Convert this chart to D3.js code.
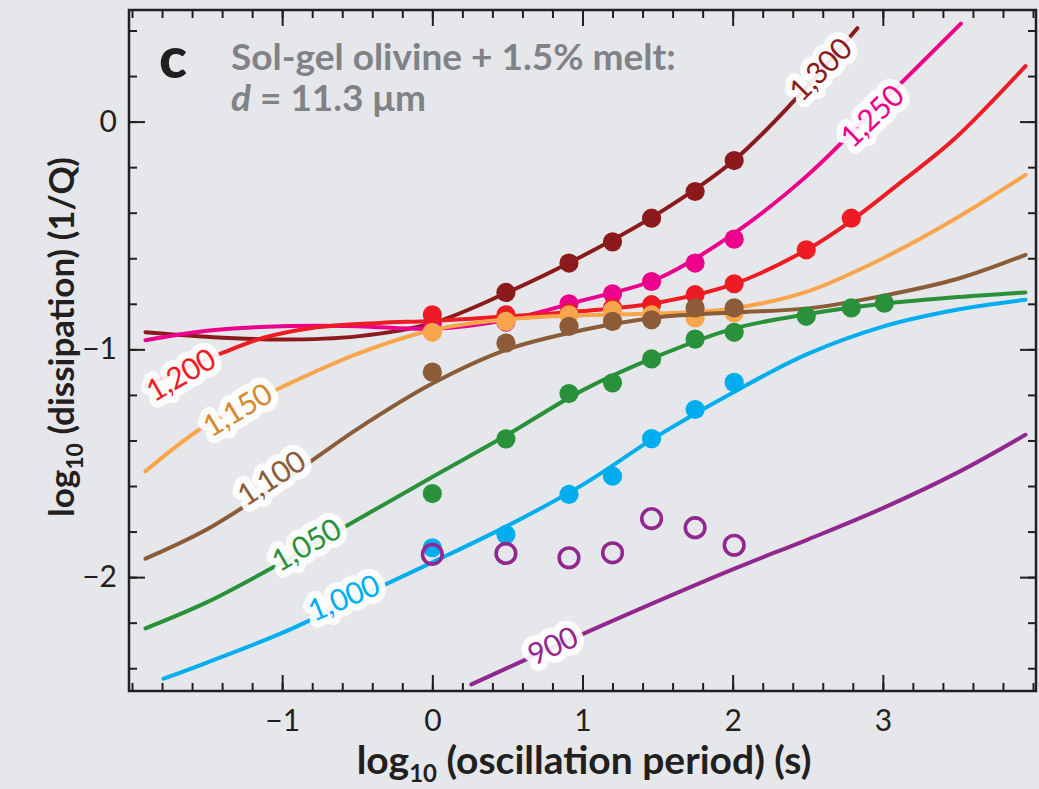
<!DOCTYPE html>
<html>
<head>
<meta charset="utf-8">
<script src="https://cdn.jsdelivr.net/npm/d3@7"></script>
<style>
  html, body { margin: 0; padding: 0; background: #e5e7ea; }
  svg { display: block; }
  text { font-family: Lato, "Open Sans", sans-serif; }
</style>
</head>
<body>
<svg id="chart" width="1039" height="789"></svg>
<script>
// ---- Data: log10 period (s) vs log10 dissipation (1/Q), by temperature (°C) ----
const temperatures = [1300, 1250, 1200, 1150, 1100, 1050, 1000, 900];
const labelText = ["1,300", "1,250", "1,200", "1,150", "1,100", "1,050", "1,000", "900"];
const seriesColors = ["#8c1a1d", "#ec008c", "#ed1c24", "#f9a54b", "#8b5c37", "#28913a", "#00aeef", "#92278f"];
const labelColors  = ["#8c1a1d", "#ec008c", "#ed1c24", "#d4892f", "#8b5c37", "#28913a", "#00aeef", "#92278f"];

// model fit curves [log10 period, log10 1/Q]
const fit1300 = [[-1.91,-0.925],[-1.5,-0.945],[-1.0,-0.957],[-0.5,-0.943],[0,-0.885],[0.5,-0.75],[1.0,-0.59],[1.5,-0.405],[2.0,-0.175],[2.4,0.085],[2.83,0.41]];
const fit1250 = [[-1.91,-0.96],[-1.5,-0.918],[-1.0,-0.898],[-0.5,-0.898],[0,-0.91],[0.5,-0.87],[1.0,-0.785],[1.5,-0.69],[2.0,-0.495],[2.5,-0.235],[3.0,0.09],[3.52,0.43]];
const fit1200 = [[-1.91,-1.16],[-1.6,-1.07],[-1.4,-1.016],[-1.13,-0.95],[-0.8,-0.906],[-0.35,-0.884],[0,-0.875],[0.5,-0.855],[1.0,-0.832],[1.5,-0.795],[2.0,-0.715],[2.5,-0.56],[2.79,-0.435],[3.14,-0.256],[3.47,-0.08],[3.95,0.244]];
const fit1150 = [[-1.91,-1.535],[-1.5,-1.33],[-1.0,-1.165],[-0.5,-1.02],[0,-0.915],[0.5,-0.868],[1.0,-0.85],[1.5,-0.843],[2.0,-0.82],[2.5,-0.745],[3.0,-0.6],[3.5,-0.42],[3.95,-0.234]];
const fit1100 = [[-1.91,-1.919],[-1.5,-1.79],[-1.0,-1.58],[-0.5,-1.35],[0,-1.15],[0.5,-1.0],[1.0,-0.915],[1.5,-0.86],[2.0,-0.838],[2.5,-0.82],[3.0,-0.765],[3.5,-0.69],[3.95,-0.585]];
const fit1050 = [[-1.91,-2.225],[-1.5,-2.11],[-1.0,-1.935],[-0.5,-1.748],[0,-1.56],[0.5,-1.375],[1.0,-1.18],[1.5,-1.03],[2.0,-0.91],[2.5,-0.845],[3.0,-0.8],[3.5,-0.77],[3.95,-0.75]];
const fit1000 = [[-1.79,-2.446],[-1.5,-2.375],[-1.0,-2.245],[-0.5,-2.09],[0,-1.935],[0.5,-1.775],[1.0,-1.595],[1.5,-1.38],[2.0,-1.19],[2.5,-1.02],[3.0,-0.9],[3.5,-0.825],[3.95,-0.782]];
const fit900  = [[0.26,-2.471],[1.0,-2.25],[2.0,-1.966],[2.5,-1.835],[3.0,-1.697],[3.5,-1.54],[3.95,-1.375]];

// measured points [log10 period, log10 1/Q]
const obs1300 = [[0.49,-0.75],[0.91,-0.621],[1.2,-0.528],[1.46,-0.424],[1.75,-0.307],[2.01,-0.171]];
const obs1250 = [[0,-0.885],[0.49,-0.88],[0.91,-0.80],[1.2,-0.756],[1.46,-0.702],[1.75,-0.621],[2.01,-0.516]];
const obs1200 = [[0,-0.848],[0.49,-0.848],[0.91,-0.84],[1.2,-0.818],[1.46,-0.804],[1.75,-0.76],[2.01,-0.712],[2.49,-0.563],[2.79,-0.424]];
const obs1150 = [[0,-0.925],[0.49,-0.877],[0.91,-0.848],[1.2,-0.829],[1.46,-0.848],[1.75,-0.862],[2.01,-0.84]];
const obs1100 = [[0,-1.10],[0.49,-0.972],[0.91,-0.899],[1.2,-0.877],[1.46,-0.87],[1.75,-0.818],[2.01,-0.818]];
const obs1050 = [[0,-1.633],[0.49,-1.393],[0.91,-1.194],[1.2,-1.147],[1.46,-1.042],[1.75,-0.955],[2.01,-0.925],[2.49,-0.855],[2.79,-0.818],[3.01,-0.797]];
const obs1000 = [[0,-1.871],[0.49,-1.813],[0.91,-1.637],[1.2,-1.557],[1.46,-1.392],[1.75,-1.264],[2.01,-1.145]];
const obs900  = [[0,-1.90],[0.49,-1.896],[0.91,-1.915],[1.2,-1.893],[1.46,-1.743],[1.75,-1.783],[2.01,-1.86]];

// axis ticks
const xMajorTicks = [-1, 0, 1, 2, 3];
const yMajorTicks = [-2, -1, 0];

const fits = [fit1300, fit1250, fit1200, fit1150, fit1100, fit1050, fit1000, fit900];
const observations = [obs1300, obs1250, obs1200, obs1150, obs1100, obs1050, obs1000, obs900];
const openMarkers = [false, false, false, false, false, false, false, true];

// ---- Layout ----
const svg = d3.select("#chart");
const W = 1039, H = 789;
const plot = { left: 129, right: 1036, top: 10, bottom: 691 };
const ink = "#231f20";

svg.append("rect").attr("width", W).attr("height", H).attr("fill", "#e5e7ea");

const x = d3.scaleLinear().domain([-2.02, 4.02]).range([plot.left, plot.right]);
const y = d3.scaleLinear().domain([-2.5, 0.49]).range([plot.bottom, plot.top]);

const xMinor = d3.range(-2.0, 4.01, 0.2).map(v => +v.toFixed(1));
const yMinor = d3.range(-2.4, 0.41, 0.2).map(v => +v.toFixed(1));

const line = d3.line()
  .x(d => x(d[0])).y(d => y(d[1]))
  .curve(d3.curveCatmullRom.alpha(0.5));

// ---- Series: fit curve then its measurements (hotter first, cooler on top) ----
const series = svg.append("g");
temperatures.forEach((t, i) => {
  const g = series.append("g").attr("class", "series-" + t);
  g.append("path")
    .attr("d", line(fits[i]))
    .attr("fill", "none")
    .attr("stroke", seriesColors[i])
    .attr("stroke-width", 4)
    .attr("stroke-linecap", "round");
  const dots = g.selectAll("circle").data(observations[i]).join("circle")
    .attr("cx", d => x(d[0])).attr("cy", d => y(d[1]));
  if (openMarkers[i]) {
    dots.attr("r", 9.8).attr("fill", "none")
      .attr("stroke", seriesColors[i]).attr("stroke-width", 3.6);
  } else {
    dots.attr("r", 9.6).attr("fill", seriesColors[i]);
  }
});

// ---- Temperature labels along curves (data position + rotation in degrees) ----
const labelPlacement = [
  { at: [2.583, 0.23],  angle: -45 },
  { at: [2.926, 0.025], angle: -44 },
  { at: [-1.677, -1.111], angle: -30 },
  { at: [-1.30, -1.265], angle: -31 },
  { at: [-1.074, -1.564], angle: -33 },
  { at: [-0.841, -1.857], angle: -30 },
  { at: [-0.591, -2.09], angle: -23 },
  { at: [0.80, -2.30], angle: -25 }
];
const labelSize = 30;
const labelFont = "'Open Sans', 'Noto Sans', sans-serif";
const labels = svg.append("g");
labelPlacement.forEach((p, i) => {
  const g = labels.append("g")
    .attr("transform", `translate(${x(p.at[0])},${y(p.at[1])}) rotate(${p.angle})`);
  g.append("text")
    .attr("text-anchor", "middle").attr("dy", "0.36em")
    .attr("font-family", labelFont).attr("font-size", labelSize)
    .attr("letter-spacing", -0.5)
    .attr("fill", "#ffffff").attr("stroke", "#ffffff")
    .attr("stroke-width", 14).attr("stroke-linejoin", "round")
    .attr("opacity", 0.9)
    .text(labelText[i]);
  g.append("text")
    .attr("text-anchor", "middle").attr("dy", "0.36em")
    .attr("font-family", labelFont).attr("font-size", labelSize)
    .attr("letter-spacing", -0.5)
    .attr("fill", labelColors[i])
    .text(labelText[i]);
});

// ---- Frame and inward ticks on all four sides ----
const axes = svg.append("g");
function styleAxis(sel) {
  sel.select(".domain").remove();
  sel.selectAll(".tick line").attr("stroke", ink).attr("stroke-width", 2);
  sel.selectAll(".tick text").attr("fill", ink).attr("font-size", 30)
    .attr("font-family", "Lato, 'Open Sans', sans-serif");
}
const fmt = d3.format("d");
axes.append("g").attr("transform", `translate(0,${plot.bottom})`)
  .call(d3.axisBottom(x).tickValues(xMinor).tickSize(-8).tickFormat("")).call(styleAxis);
axes.append("g").attr("transform", `translate(0,${plot.bottom})`)
  .call(d3.axisBottom(x).tickValues(xMajorTicks).tickSize(-16).tickPadding(19).tickFormat(fmt)).call(styleAxis);
axes.append("g").attr("transform", `translate(0,${plot.top})`)
  .call(d3.axisTop(x).tickValues(xMinor).tickSize(-8).tickFormat("")).call(styleAxis);
axes.append("g").attr("transform", `translate(0,${plot.top})`)
  .call(d3.axisTop(x).tickValues(xMajorTicks).tickSize(-16).tickFormat("")).call(styleAxis);
axes.append("g").attr("transform", `translate(${plot.left},0)`)
  .call(d3.axisLeft(y).tickValues(yMinor).tickSize(-8).tickFormat("")).call(styleAxis);
axes.append("g").attr("transform", `translate(${plot.left},0)`)
  .call(d3.axisLeft(y).tickValues(yMajorTicks).tickSize(-16).tickPadding(12).tickFormat(fmt)).call(styleAxis);
axes.append("g").attr("transform", `translate(${plot.right},0)`)
  .call(d3.axisRight(y).tickValues(yMinor).tickSize(-8).tickFormat("")).call(styleAxis);
axes.append("g").attr("transform", `translate(${plot.right},0)`)
  .call(d3.axisRight(y).tickValues(yMajorTicks).tickSize(-16).tickFormat("")).call(styleAxis);

axes.append("rect")
  .attr("x", plot.left).attr("y", plot.top)
  .attr("width", plot.right - plot.left).attr("height", plot.bottom - plot.top)
  .attr("fill", "none").attr("stroke", ink).attr("stroke-width", 2.5);

// ---- Axis titles ----
const xTitle = svg.append("text")
  .attr("x", 584).attr("y", 774)
  .attr("text-anchor", "middle").attr("font-size", 39).attr("font-weight", "bold").attr("fill", ink);
xTitle.append("tspan").text("log");
xTitle.append("tspan").attr("font-size", 24).attr("dy", 8).text("10");
xTitle.append("tspan").attr("dy", -8).text(" (oscillation period) (s)");

const yTitle = svg.append("text")
  .attr("transform", "translate(74,337) rotate(-90)")
  .attr("text-anchor", "middle").attr("font-size", 35).attr("font-weight", "bold").attr("fill", ink);
yTitle.append("tspan").text("log");
yTitle.append("tspan").attr("font-size", 23).attr("dy", 9).text("10");
yTitle.append("tspan").attr("dy", -9).text(" (dissipation) (1/Q)");

// ---- Panel letter and sample description ----
svg.append("text").attr("x", 159).attr("y", 78)
  .attr("font-size", 58).attr("font-weight", "900").attr("fill", ink).text("c");
svg.append("text").attr("x", 231).attr("y", 70)
  .attr("font-size", 37).attr("font-weight", "bold").attr("fill", "#808285")
  .text("Sol-gel olivine + 1.5% melt:");
const line2 = svg.append("text").attr("x", 231).attr("y", 111)
  .attr("font-size", 37).attr("font-weight", "bold").attr("fill", "#808285");
line2.append("tspan").attr("font-style", "italic").text("d");
line2.append("tspan").text(" = 11.3 μm");
</script>
</body>
</html>
